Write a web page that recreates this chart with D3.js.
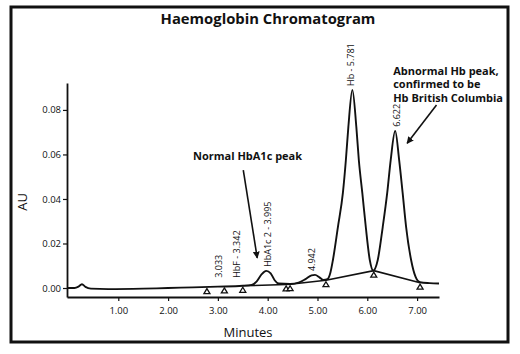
<!DOCTYPE html>
<html>
<head>
<meta charset="utf-8">
<script src="https://cdn.jsdelivr.net/npm/d3@7"></script>
<style>
  body { margin: 0; background: #fff; }
  svg { display: block; font-family: "Open Sans", sans-serif; }
</style>
</head>
<body>
<svg id="chart" width="520" height="354"></svg>
<script>
// --- data ---
const traceTime = [-0.03, 0.12, 0.20, 0.27, 0.34, 0.45, 0.80, 1.50, 2.00, 2.50, 3.00, 3.50, 3.68, 3.78, 3.88, 3.97, 4.06, 4.14, 4.22, 4.45, 4.62, 4.76, 4.88, 4.95, 5.04, 5.12, 5.20, 5.26, 5.31, 5.41, 5.51, 5.57, 5.62, 5.70, 5.78, 5.83, 5.90, 5.97, 6.05, 6.12, 6.21, 6.31, 6.40, 6.47, 6.56, 6.64, 6.71, 6.78, 6.88, 6.97, 7.06, 7.25, 7.44];
const traceAU = [0.0000, 0.0000, 0.0006, 0.0017, 0.0005, -0.0003, -0.0005, -0.0003, 0.0000, 0.0003, 0.0006, 0.0010, 0.0014, 0.0030, 0.0062, 0.0077, 0.0066, 0.0035, 0.0020, 0.0018, 0.0024, 0.0040, 0.0057, 0.0059, 0.0048, 0.0036, 0.0040, 0.0070, 0.0126, 0.0274, 0.0427, 0.0575, 0.0724, 0.0890, 0.0724, 0.0575, 0.0427, 0.0274, 0.0126, 0.0078, 0.0126, 0.0274, 0.0427, 0.0575, 0.0706, 0.0575, 0.0427, 0.0274, 0.0126, 0.0050, 0.0026, 0.0022, 0.0020];

// integration markers (triangles) and the baseline drawn between them
const markerTime = [2.78, 3.13, 3.50, 4.37, 4.45, 5.17, 6.13, 7.06];
const markerAU = [0.0004, 0.0007, 0.0010, 0.0016, 0.0017, 0.0035, 0.0078, 0.0024];
const baselineTime = [3.50, 4.37, 4.45, 5.17, 6.13, 7.06];
const baselineAU = [0.0010, 0.0016, 0.0017, 0.0035, 0.0078, 0.0024];

// peak labels (rotated), anchored just above each peak
const peakNames = ["3.033", "HbF - 3.342", "HbA1c 2 - 3.995", "4.942", "Hb - 5.781", "6.622"];
const peakTime = [3.02, 3.38, 4.01, 4.89, 5.67, 6.59];
const peakAU = [0.0028, 0.0028, 0.0077, 0.0058, 0.0890, 0.0706];

const xTicks = [1, 2, 3, 4, 5, 6, 7];
const yTicks = [0, 0.02, 0.04, 0.06, 0.08];

// callouts with arrows (data units)
const callouts = [
  { lines: ["Normal HbA1c peak"], t: 2.50, v: 0.0575, from: [3.51, 0.0530], to: [3.79, 0.0135] },
  { lines: ["Abnormal Hb peak,", "confirmed to be", "Hb British Columbia"], t: 6.52, v: 0.0957,
    from: [7.39, 0.0822], to: [6.80, 0.0650] }
];

const svg = d3.select("#chart");
const ink = "#111";

// outer frame
svg.append("rect")
  .attr("x", 11).attr("y", 7).attr("width", 497).attr("height", 335)
  .attr("fill", "none").attr("stroke", ink).attr("stroke-width", 3);

svg.append("text")
  .attr("x", 268).attr("y", 24)
  .attr("text-anchor", "middle")
  .attr("font-size", 14.8).attr("font-weight", 700).attr("fill", ink)
  .text("Haemoglobin Chromatogram");

const x = d3.scaleLinear().domain([-0.03, 7.44]).range([67, 439]);
const y = d3.scaleLinear().domain([-0.00404, 0.0921]).range([297, 83]);

// axes
const gx = svg.append("g")
  .attr("transform", `translate(0,${y.range()[0]})`)
  .call(d3.axisBottom(x).tickValues(xTicks).tickFormat(d3.format(".2f"))
    .tickSize(4).tickSizeOuter(0).tickPadding(6));
const gy = svg.append("g")
  .attr("transform", `translate(${x.range()[0]},0)`)
  .call(d3.axisLeft(y).tickValues(yTicks).tickFormat(d3.format(".2f"))
    .tickSize(4).tickSizeOuter(0).tickPadding(2));

[gx, gy].forEach(g => {
  g.select(".domain").attr("stroke", ink).attr("stroke-width", 1.8);
  g.selectAll(".tick line").attr("stroke", ink).attr("stroke-width", 1.2);
  g.selectAll(".tick text").attr("fill", ink)
    .attr("font-family", "'Open Sans', sans-serif").attr("font-size", 9.5);
});

svg.append("text")
  .attr("x", 248).attr("y", 337)
  .attr("text-anchor", "middle").attr("font-size", 13).attr("fill", ink)
  .text("Minutes");
svg.append("text")
  .attr("transform", "translate(27,202) rotate(-90)")
  .attr("text-anchor", "middle").attr("font-size", 13).attr("fill", ink)
  .text("AU");

// baseline segments
const line = d3.line().x(d => x(d[0])).y(d => y(d[1]));
svg.append("path")
  .datum(d3.zip(baselineTime, baselineAU))
  .attr("d", line)
  .attr("fill", "none").attr("stroke", ink).attr("stroke-width", 1.6);

// trace
svg.append("path")
  .datum(d3.zip(traceTime, traceAU))
  .attr("d", line.curve(d3.curveMonotoneX))
  .attr("fill", "none").attr("stroke", ink).attr("stroke-width", 1.9)
  .attr("stroke-linejoin", "round");

// triangle markers, hanging just below the integration point
svg.selectAll("path.marker")
  .data(d3.zip(markerTime, markerAU))
  .join("path")
  .attr("class", "marker")
  .attr("transform", d => `translate(${x(d[0])},${y(d[1]) + 1.5})`)
  .attr("d", "M0,0 L3,5 L-3,5 Z")
  .attr("fill", "#fff").attr("stroke", ink).attr("stroke-width", 1.3);

// peak labels
svg.selectAll("text.peak")
  .data(d3.zip(peakNames, peakTime, peakAU))
  .join("text")
  .attr("class", "peak")
  .attr("transform", d => `translate(${x(d[1])},${y(d[2]) - 4}) rotate(-90)`)
  .attr("dy", "0.35em")
  .attr("font-size", 9).attr("fill", ink)
  .text(d => d[0]);

// callouts
svg.append("defs").append("marker")
  .attr("id", "head").attr("viewBox", "0 0 10 10")
  .attr("refX", 9).attr("refY", 5)
  .attr("markerWidth", 7).attr("markerHeight", 7)
  .attr("markerUnits", "userSpaceOnUse")
  .attr("orient", "auto")
  .append("path").attr("d", "M0,0 L10,5 L0,10 Z").attr("fill", ink);

callouts.forEach(c => {
  const t = svg.append("text")
    .attr("font-size", 11).attr("font-weight", 700).attr("fill", ink);
  c.lines.forEach((s, i) => {
    t.append("tspan").attr("x", x(c.t)).attr("y", y(c.v) + i * 13.5).text(s);
  });
  svg.append("line")
    .attr("x1", x(c.from[0])).attr("y1", y(c.from[1]))
    .attr("x2", x(c.to[0])).attr("y2", y(c.to[1]))
    .attr("stroke", ink).attr("stroke-width", 1.6)
    .attr("marker-end", "url(#head)");
});
</script>
</body>
</html>
